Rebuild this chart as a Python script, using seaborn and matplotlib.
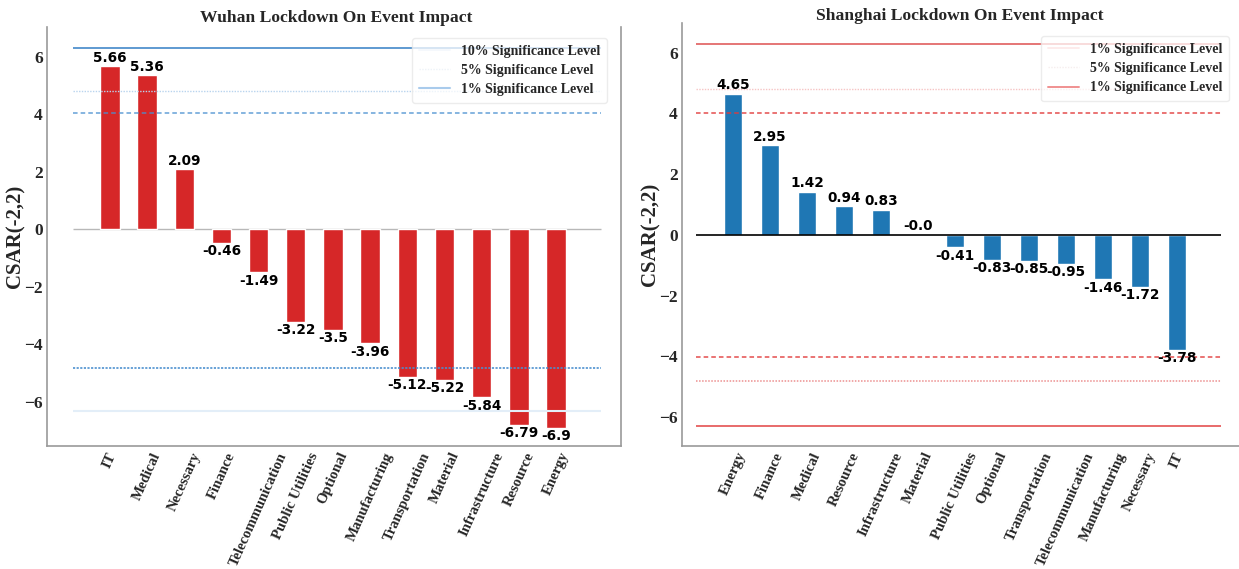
import matplotlib
matplotlib.use("Agg")
import matplotlib.pyplot as plt
from matplotlib.lines import Line2D
import pandas as pd
import seaborn as sns

# CSAR(-2,2) by industry, Wuhan lockdown
wuhan_sectors = ["IT", "Medical", "Necessary", "Finance", "Telecommunication",
                 "Public Utilities", "Optional", "Manufacturing", "Transportation",
                 "Material", "Infrastructure", "Resource", "Energy"]
wuhan_csar = [5.66, 5.36, 2.09, -0.46, -1.49, -3.22, -3.5, -3.96, -5.12,
              -5.22, -5.84, -6.79, -6.9]

# CSAR(-2,2) by industry, Shanghai lockdown
shanghai_sectors = ["Energy", "Finance", "Medical", "Resource", "Infrastructure",
                    "Material", "Public Utilities", "Optional", "Transportation",
                    "Telecommunication", "Manufacturing", "Necessary", "IT"]
shanghai_csar = [4.65, 2.95, 1.42, 0.94, 0.83, -0.0, -0.41, -0.83, -0.85,
                 -0.95, -1.46, -1.72, -3.78]

# critical values of the significance bands
crit_10 = 4.03
crit_5 = 4.8
crit_1 = 6.3

wuhan_legend = ["10% Significance Level", "5% Significance Level", "1% Significance Level"]
shanghai_legend = ["1% Significance Level", "5% Significance Level", "1% Significance Level"]
y_ticks = [-6, -4, -2, 0, 2, 4, 6]

sns.set_theme(style="white")
plt.rcParams["font.family"] = ["Liberation Serif", "DejaVu Serif"]
plt.rcParams["axes.unicode_minus"] = True

fig = plt.figure(figsize=(12.39, 5.69), dpi=100)
ax1 = fig.add_axes([0.038, 0.216, 0.463, 0.737])
ax2 = fig.add_axes([0.5504, 0.216, 0.4496, 0.744])

serif_bold = dict(family="Liberation Serif", weight="bold")


def style_axes(ax, xlim, ylim, right_spine):
    ax.set_xlim(*xlim)
    ax.set_ylim(*ylim)
    ax.set_yticks(y_ticks)
    ax.set_ylabel("CSAR(-2,2)", fontsize=15, labelpad=-1, **serif_bold)
    ax.set_xlabel("")
    ax.tick_params(axis="both", length=0, pad=3)
    for lab in ax.get_yticklabels():
        lab.set_fontfamily("Liberation Serif")
        lab.set_fontweight("bold")
        lab.set_fontsize(12.5)
    ax.set_xticks(range(len(ax.get_xticklabels())))
    for lab in ax.get_xticklabels():
        lab.set_fontfamily("Liberation Serif")
        lab.set_fontweight("bold")
        lab.set_fontsize(10.6)
        lab.set_rotation(66)
        lab.set_ha("center")
    for side in ["left", "bottom", "right", "top"]:
        ax.spines[side].set_color("#9a9a9a")
        ax.spines[side].set_linewidth(1.2)
    ax.spines["top"].set_visible(False)
    ax.spines["right"].set_visible(right_spine)


def add_values(ax, values):
    for cont in ax.containers:
        ax.bar_label(cont, labels=[f"{v}" for v in values], padding=1,
                     fontsize=9.8, fontweight="bold", family="DejaVu Sans",
                     color="black")


# ---------------- Wuhan ----------------
df_w = pd.DataFrame({"sector": wuhan_sectors, "csar": wuhan_csar})
sns.barplot(data=df_w, x="sector", y="csar", color="#d62728", saturation=1,
            width=0.52, ax=ax1)
add_values(ax1, wuhan_csar)
x0, x1 = -1.0, 13.2
ax1.hlines(0, x0, x1, color="#b8b8b8", lw=1.0, zorder=0)
ax1.hlines(crit_1, x0, x1, color="#3f86c8", lw=1.3, alpha=0.9, zorder=1)
ax1.hlines(crit_5, x0, x1, color="#b9d4ee", lw=1.0, ls=(0, (1, 1)), zorder=1)
ax1.hlines(crit_10, x0, x1, color="#4a90d0", lw=1.1, ls=(0, (3, 2)), alpha=0.85, zorder=1)
ax1.hlines(-crit_5, x0, x1, color="#4a8fcf", lw=1.3, ls=(0, (1.2, 0.8)), alpha=0.9, zorder=1)
ax1.hlines(-crit_1, x0, x1, color="#e3eef8", lw=1.5, zorder=1)
style_axes(ax1, (-1.69, 13.74), (-7.53, 7.04), right_spine=True)
fig.text(0.271, 0.968, "Wuhan Lockdown On Event Impact", fontsize=12.6,
         ha="center", va="center", **serif_bold)
h1 = [Line2D([], [], color="#f4f8fc", lw=1.3),
      Line2D([], [], color="#eef3f8", lw=1.0, ls=(0, (1, 1))),
      Line2D([], [], color="#a9cbec", lw=1.5)]
ax1.legend(h1, wuhan_legend, loc="upper right", bbox_to_anchor=(0.988, 0.99),
           prop=dict(family="Liberation Serif", weight="bold", size=10),
           frameon=True, framealpha=0.75, edgecolor="#e6e6e6",
           handlelength=2.2, borderpad=0.5, labelspacing=0.45)

# ---------------- Shanghai ----------------
df_s = pd.DataFrame({"sector": shanghai_sectors, "csar": shanghai_csar})
sns.barplot(data=df_s, x="sector", y="csar", color="#1f77b4", saturation=1,
            width=0.5, ax=ax2)
add_values(ax2, shanghai_csar)
ax2.hlines(0, x0, x1, color="black", lw=1.2, zorder=1)
ax2.hlines(crit_1, x0, x1, color="#e05a5a", lw=1.3, alpha=0.9, zorder=1)
ax2.hlines(crit_5, x0, x1, color="#f6c4c4", lw=1.0, ls=(0, (1, 1)), zorder=1)
ax2.hlines(crit_10, x0, x1, color="#e23a3a", lw=1.1, ls=(0, (3, 2)), alpha=0.9, zorder=1)
ax2.hlines(-crit_10, x0, x1, color="#e23a3a", lw=1.1, ls=(0, (3, 2)), alpha=0.9, zorder=1)
ax2.hlines(-crit_5, x0, x1, color="#ec9090", lw=1.1, ls=(0, (1, 1)), zorder=1)
ax2.hlines(-crit_1, x0, x1, color="#e86a6a", lw=1.4, zorder=1)
style_axes(ax2, (-1.38, 13.68), (-6.96, 6.99), right_spine=False)
fig.text(0.775, 0.972, "Shanghai Lockdown On Event Impact", fontsize=12.6,
         ha="center", va="center", **serif_bold)
h2 = [Line2D([], [], color="#fde9e9", lw=1.3),
      Line2D([], [], color="#f6eeee", lw=1.0, ls=(0, (1, 1))),
      Line2D([], [], color="#f09090", lw=1.4)]
ax2.legend(h2, shanghai_legend, loc="upper right", bbox_to_anchor=(0.995, 0.985),
           prop=dict(family="Liberation Serif", weight="bold", size=10),
           frameon=True, framealpha=0.75, edgecolor="#e6e6e6",
           handlelength=2.2, borderpad=0.5, labelspacing=0.45)

fig.savefig("out.png", dpi=100)
